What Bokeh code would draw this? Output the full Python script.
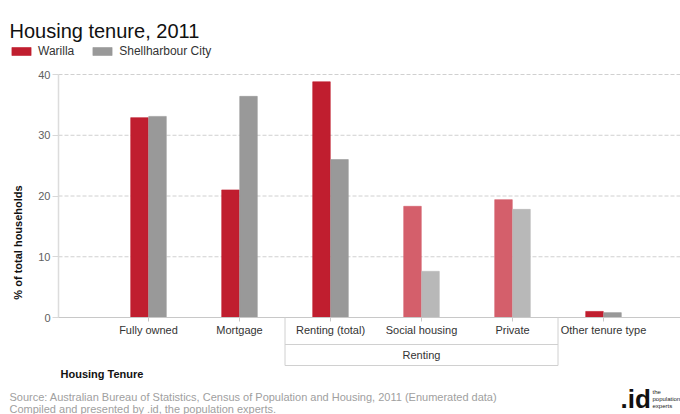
import math
from bokeh.plotting import figure
from bokeh.models import (ColumnDataSource, FixedTicker, Label, Legend, LegendItem, Range1d,
                          LinearAxis)
from bokeh.core.properties import value
from bokeh.embed import file_html
from bokeh.resources import INLINE

# ---- data ----
categories = ["Fully owned", "Mortgage", "Renting (total)", "Social housing", "Private", "Other tenure type"]
warilla = [32.9, 21.0, 38.8, 18.3, 19.4, 1.0]
shellharbour = [33.1, 36.4, 26.0, 7.6, 17.8, 0.8]
is_sub = [False, False, False, True, True, False]
group_label = "Renting"
group_members = ["Renting (total)", "Social housing", "Private"]
y_ticks = [0, 10, 20, 30, 40]
series_names = ["Warilla", "Shellharbour City"]

# ---- geometry / style ----
W, H = 680, 414
AXIS_PX = 58          # pixel column of the y axis
CAT0_PX = 148         # pixel column of first category centre
ZERO_PX = 317         # pixel row of y = 0
PX_X = 91.0           # pixels per category
PX_Y = 6.075          # pixels per percent
FONT = "Liberation Sans"
RED, RED_L = "#c01e2f", "#d45f6b"
GREY, GREY_L = "#999999", "#b8b8b8"

x_range = Range1d((0 - CAT0_PX) / PX_X, (W - CAT0_PX) / PX_X)
y_range = Range1d(-(H - ZERO_PX) / PX_Y, ZERO_PX / PX_Y)
axis_x = (AXIS_PX - CAT0_PX) / PX_X

p = figure(width=W, height=H, x_range=x_range, y_range=y_range,
           output_backend="svg", toolbar_location=None, x_axis_location=None,
           y_axis_location=None,
           min_border_left=0, min_border_right=0, min_border_top=0, min_border_bottom=0,
           outline_line_color=None, background_fill_color="white", border_fill_color="white")

xs = list(range(len(categories)))
off = 0.099
bw = 0.193
src = ColumnDataSource(dict(
    xw=[x - off for x in xs], xs=[x + off for x in xs],
    w=warilla, s=shellharbour,
    cw=[RED_L if f else RED for f in is_sub],
    cs=[GREY_L if f else GREY for f in is_sub],
))

# y axis (fixed at its pixel column, takes no layout space)
ax = LinearAxis(fixed_location=axis_x, ticker=FixedTicker(ticks=y_ticks))
ax.axis_line_color = None
ax.major_tick_out = 6
ax.major_tick_in = 0
ax.major_tick_line_color = "#d8d8d8"
ax.minor_tick_line_color = None
ax.major_label_standoff = 2
ax.major_label_text_font = FONT
ax.major_label_text_font_size = "11px"
ax.major_label_text_color = "#606060"
p.add_layout(ax, "left")

p.xgrid.visible = False
p.ygrid.visible = False
# horizontal gridlines from the axis column to the right edge
p.segment(x0=[axis_x] * len(y_ticks), y0=y_ticks, x1=[x_range.end] * len(y_ticks), y1=y_ticks,
          line_color="#d0d0d0", line_dash="4 2")

# y axis line
p.segment(x0=[axis_x], y0=[0], x1=[axis_x], y1=[y_ticks[-1]],
          line_color="#dcdcdc", line_width=1.5)

# bars
rw = p.vbar(x="xw", top="w", width=bw, bottom=0, source=src, fill_color="cw",
            line_color="cw", line_alpha=0.6)
rs = p.vbar(x="xs", top="s", width=bw, bottom=0, source=src, fill_color="cs",
            line_color="cs", line_alpha=0.6)

# baseline
p.segment(x0=[axis_x], y0=[0], x1=[x_range.end], y1=[0], line_color="#c8c8c8", line_width=1)

# category ticks
p.segment(x0=xs, y0=[0] * len(xs), x1=xs, y1=[-4 / PX_Y] * len(xs), line_color="#c8c8c8")

# category labels
p.text(x=xs, y=[0] * len(xs), text=categories, y_offset=12, text_align="center",
       text_baseline="middle", text_font=value(FONT), text_font_size="11px", text_color="#333333")

# group box
gi = [categories.index(c) for c in group_members]
gl, gr = min(gi) - 0.5, max(gi) + 0.5
mid_y = -27 / PX_Y
bot_y = -48 / PX_Y
p.segment(x0=[gl, gr, gl, gl], y0=[0, 0, mid_y, bot_y],
          x1=[gl, gr, gr, gr], y1=[bot_y, bot_y, mid_y, bot_y], line_color="#d0d0d0")
p.text(x=[sum(gi) / len(gi)], y=[0], text=[group_label], y_offset=37, text_align="center",
       text_baseline="middle", text_font=value(FONT), text_font_size="11px", text_color="#333333")

# legend
legend = Legend(items=[LegendItem(label=series_names[0], renderers=[rw], index=0),
                       LegendItem(label=series_names[1], renderers=[rs], index=0)],
                location=(9, H - 48 - 10), orientation="horizontal",
                glyph_width=24, glyph_height=10, label_height=10, label_standoff=5,
                spacing=16, padding=0, margin=0, border_line_color=None,
                background_fill_alpha=0, label_text_font=FONT, label_text_font_size="12px",
                label_text_color="#333333", label_text_baseline="middle")
p.add_layout(legend)


def lab(px, py, text, **kw):
    base = dict(x=px, y=H - py, x_units="screen", y_units="screen", text=text,
                text_font=FONT)
    base.update(kw)
    p.add_layout(Label(**base))


lab(9, 30, "Housing tenure, 2011", text_font_size="20px", text_color="#111111",
    text_baseline="alphabetic")
lab(17, 242, "% of total households", angle=math.pi / 2, text_align="center",
    text_baseline="middle", text_font_size="11px", text_font_style="bold", text_color="#111111")
lab(60, 373, "Housing Tenure", text_baseline="middle", text_font_size="11px",
    text_font_style="bold", text_color="#111111")
lab(9, 396, "Source: Australian Bureau of Statistics, Census of Population and Housing, 2011 (Enumerated data)",
    text_baseline="middle", text_font_size="11px", text_color="#a0a0a0")
lab(9, 408, "Compiled and presented by .id, the population experts.",
    text_baseline="middle", text_font_size="11px", text_color="#a0a0a0")
# logo
lab(620, 413, ".id", text_baseline="bottom", text_font_size="26px",
    text_font_style="bold", text_color="#111111")
lab(652, 391, "the", text_baseline="middle", text_font_size="6px", text_color="#222222")
lab(652, 398, "population", text_baseline="middle", text_font_size="6px", text_color="#222222")
lab(652, 405, "experts", text_baseline="middle", text_font_size="6px", text_color="#222222")

open("out.html", "w").write(file_html(p, INLINE))
